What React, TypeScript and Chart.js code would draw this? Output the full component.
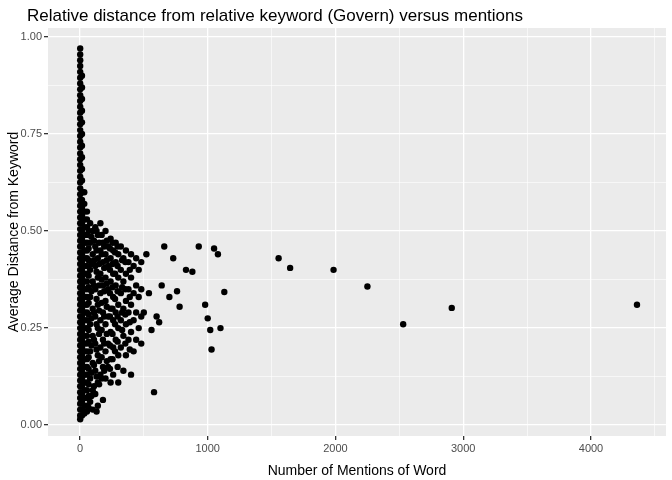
import { useEffect, useRef } from 'react';
import { Chart, registerables } from 'chart.js';

Chart.register(...registerables);

const chartTitle = 'Relative distance from relative keyword (Govern) versus mentions';

// dense columns of words with very few mentions
const columnMentions = [2, 16, 34, 55];
const columnDistances = [
  [0.97, 0.955, 0.94, 0.925, 0.91, 0.895, 0.88, 0.865, 0.85, 0.835, 0.82, 0.805, 0.79, 0.775, 0.76, 0.745, 0.73, 0.715, 0.7, 0.685, 0.67, 0.655, 0.64, 0.625, 0.61, 0.595, 0.58, 0.565, 0.55, 0.535, 0.52, 0.505, 0.49, 0.475, 0.46, 0.445, 0.43, 0.415, 0.4, 0.385, 0.37, 0.355, 0.34, 0.325, 0.31, 0.295, 0.28, 0.265, 0.25, 0.235, 0.22, 0.205, 0.19, 0.175, 0.16, 0.145, 0.13, 0.115, 0.1, 0.085, 0.07, 0.055, 0.04, 0.025, 0.015],
  [0.9, 0.87, 0.84, 0.81, 0.78, 0.75, 0.72, 0.69, 0.66, 0.63, 0.6, 0.58, 0.56, 0.54, 0.52, 0.5, 0.48, 0.46, 0.44, 0.42, 0.4, 0.38, 0.36, 0.34, 0.32, 0.3, 0.28, 0.26, 0.24, 0.22, 0.2, 0.18, 0.16, 0.14, 0.12, 0.1, 0.08, 0.06, 0.04, 0.025],
  [0.6, 0.57, 0.55, 0.53, 0.51, 0.49, 0.47, 0.45, 0.43, 0.41, 0.39, 0.37, 0.35, 0.33, 0.31, 0.29, 0.27, 0.25, 0.23, 0.21, 0.19, 0.17, 0.15, 0.13, 0.11, 0.09, 0.07, 0.05, 0.03],
  [0.55, 0.53, 0.51, 0.49, 0.47, 0.45, 0.43, 0.41, 0.39, 0.37, 0.35, 0.33, 0.31, 0.29, 0.27, 0.25, 0.23, 0.21, 0.19, 0.17, 0.15, 0.13, 0.11, 0.09, 0.07, 0.05, 0.035],
];

// the fan of words with a moderate number of mentions
const midMentions = [80, 100, 120, 140, 160, 180, 200, 220, 240, 260, 280, 300, 320, 340, 360, 380, 400, 420, 440, 460, 480];
const midDistances = [
  [0.52, 0.47, 0.4, 0.33, 0.26, 0.19, 0.12, 0.06],
  [0.5, 0.44, 0.37, 0.3, 0.23, 0.16, 0.09, 0.04],
  [0.51, 0.46, 0.41, 0.35, 0.28, 0.21, 0.14, 0.08],
  [0.49, 0.43, 0.38, 0.31, 0.25, 0.18, 0.11, 0.05],
  [0.52, 0.45, 0.39, 0.34, 0.27, 0.2, 0.13],
  [0.47, 0.42, 0.36, 0.29, 0.22, 0.15, 0.065],
  [0.5, 0.44, 0.38, 0.32, 0.26, 0.19, 0.12],
  [0.46, 0.41, 0.35, 0.28, 0.21, 0.15],
  [0.48, 0.43, 0.37, 0.3, 0.24, 0.17, 0.11],
  [0.45, 0.39, 0.33, 0.27, 0.2, 0.13],
  [0.47, 0.42, 0.36, 0.29, 0.22],
  [0.44, 0.38, 0.31, 0.25, 0.18, 0.11],
  [0.46, 0.4, 0.34, 0.27, 0.2],
  [0.43, 0.37, 0.3, 0.23, 0.14],
  [0.45, 0.39, 0.32, 0.26, 0.18],
  [0.42, 0.35, 0.29, 0.22],
  [0.44, 0.38, 0.31, 0.24, 0.13],
  [0.41, 0.34, 0.27, 0.19],
  [0.43, 0.36, 0.29, 0.22],
  [0.4, 0.33, 0.25],
  [0.42, 0.35, 0.28, 0.21],
];

// further words filling the fan between the rows above
const fillMentions = [68, 90, 110, 130, 150, 170, 190, 210, 235, 255, 275, 295, 330, 355, 390];
const fillDistances = [
  [0.5, 0.455, 0.425, 0.385, 0.355, 0.315, 0.285, 0.245, 0.215, 0.175, 0.145, 0.105, 0.075, 0.045],
  [0.485, 0.415, 0.345, 0.275, 0.205, 0.135, 0.075],
  [0.475, 0.425, 0.36, 0.29, 0.22, 0.155, 0.1],
  [0.5, 0.45, 0.395, 0.325, 0.26, 0.195, 0.125, 0.035],
  [0.47, 0.415, 0.36, 0.295, 0.235, 0.165, 0.105],
  [0.49, 0.44, 0.375, 0.315, 0.245, 0.175, 0.12],
  [0.46, 0.405, 0.345, 0.28, 0.21, 0.14],
  [0.475, 0.425, 0.365, 0.305, 0.235, 0.165],
  [0.455, 0.4, 0.34, 0.28, 0.205, 0.145],
  [0.47, 0.415, 0.355, 0.3, 0.235, 0.17],
  [0.445, 0.39, 0.325, 0.26, 0.19],
  [0.46, 0.41, 0.345, 0.28, 0.215, 0.15],
  [0.425, 0.355, 0.29, 0.245],
  [0.42, 0.35, 0.285, 0.21],
  [0.4, 0.33, 0.265, 0.195],
];

// scattered frequent words
const tailMentions = [500, 520, 540, 560, 580, 600, 620, 640, 660, 700, 730, 760, 780, 830, 880, 930, 980, 1000, 1020, 1030, 1050, 1080, 1100, 1130, 1555, 1645, 1985, 2250, 2530, 2910, 4360];
const tailDistances = [0.29, 0.44, 0.34, 0.245, 0.085, 0.28, 0.265, 0.36, 0.46, 0.33, 0.43, 0.345, 0.305, 0.4, 0.395, 0.46, 0.31, 0.275, 0.245, 0.195, 0.455, 0.44, 0.25, 0.343, 0.43, 0.405, 0.4, 0.357, 0.26, 0.302, 0.31];

const xTicks = [0, 1000, 2000, 3000, 4000];
const yTicks = [0, 0.25, 0.5, 0.75, 1];

export default function App() {
  const canvasRef = useRef<HTMLCanvasElement | null>(null);

  useEffect(() => {
    document.body.style.margin = '0';
    if (!canvasRef.current) return;
    const ctx = canvasRef.current.getContext('2d');
    if (!ctx) return;

    const points: { x: number; y: number }[] = [];
    columnMentions.forEach((m, i) => columnDistances[i].forEach((d) => points.push({ x: m, y: d })));
    midMentions.forEach((m, i) => midDistances[i].forEach((d) => points.push({ x: m, y: d })));
    fillMentions.forEach((m, i) => fillDistances[i].forEach((d) => points.push({ x: m, y: d })));
    tailMentions.forEach((m, i) => points.push({ x: m, y: tailDistances[i] }));

    const fontFamily = 'Liberation Sans, Arial, sans-serif';
    const font = { family: fontFamily };

    const panelBg = {
      id: 'panelBg',
      beforeDraw(c: Chart) {
        const { ctx: g, chartArea: a } = c;
        g.save();
        g.fillStyle = '#ebebeb';
        g.fillRect(a.left, a.top, a.right - a.left, a.bottom - a.top);
        g.restore();
      },
      afterDraw(c: Chart) {
        const g = c.ctx;
        g.save();
        g.fillStyle = '#000';
        g.font = `17px ${fontFamily}`;
        g.textBaseline = 'alphabetic';
        g.fillText(chartTitle, 27, 21);
        g.restore();
      },
    };

    const isMajorX = (v: number) => xTicks.includes(v);
    const isMajorY = (v: number) => yTicks.some((t) => Math.abs(t - v) < 1e-6);

    const chart = new Chart(ctx, {
      type: 'scatter',
      data: {
        datasets: [
          {
            data: points,
            backgroundColor: '#000',
            borderWidth: 0,
            pointRadius: 3.2,
          },
        ],
      },
      options: {
        animation: false,
        responsive: false,
        layout: { padding: { left: 6, right: 6, top: 28, bottom: 0 } },
        plugins: {
          legend: { display: false },
          tooltip: { enabled: false },
        },
        scales: {
          x: {
            type: 'linear',
            min: -250,
            max: 4587,
            afterBuildTicks: (s) => {
              s.ticks = [0, 500, 1000, 1500, 2000, 2500, 3000, 3500, 4000, 4500].map((v) => ({ value: v }));
            },
            afterFit: (s) => {
              s.height = 44;
            },
            border: { display: false },
            grid: {
              color: '#fff',
              lineWidth: (c) => (isMajorX(c.tick?.value) ? 1.3 : 0.6),
              tickLength: 4,
              tickColor: (c) => (isMajorX(c.tick?.value) ? '#333' : 'rgba(0,0,0,0)'),
            },
            ticks: {
              color: '#4d4d4d',
              font: { ...font, size: 11 },
              padding: 2,
              maxRotation: 0,
              callback: (v) => (isMajorX(Number(v)) ? String(v) : ''),
            },
            title: {
              display: true,
              text: 'Number of Mentions of Word',
              color: '#000',
              font: { ...font, size: 14 },
              padding: { top: 2, bottom: 0 },
            },
          },
          y: {
            min: -0.028,
            max: 1.023,
            afterBuildTicks: (s) => {
              s.ticks = [0, 0.125, 0.25, 0.375, 0.5, 0.625, 0.75, 0.875, 1].map((v) => ({ value: v }));
            },
            afterFit: (s) => {
              s.width = 42;
            },
            border: { display: false },
            grid: {
              color: '#fff',
              lineWidth: (c) => (isMajorY(c.tick?.value) ? 1.3 : 0.6),
              tickLength: 4,
              tickColor: (c) => (isMajorY(c.tick?.value) ? '#333' : 'rgba(0,0,0,0)'),
            },
            ticks: {
              color: '#4d4d4d',
              font: { ...font, size: 11 },
              padding: 2,
              callback: (v) => (isMajorY(Number(v)) ? Number(v).toFixed(2) : ''),
            },
            title: {
              display: true,
              text: 'Average Distance from Keyword',
              color: '#000',
              font: { ...font, size: 14 },
              padding: { top: 0, bottom: 2 },
            },
          },
        },
      },
      plugins: [panelBg],
    });

    return () => {
      chart.destroy();
    };
  }, []);

  return <canvas ref={canvasRef} width={672} height={480} style={{ display: 'block' }}></canvas>;
}
